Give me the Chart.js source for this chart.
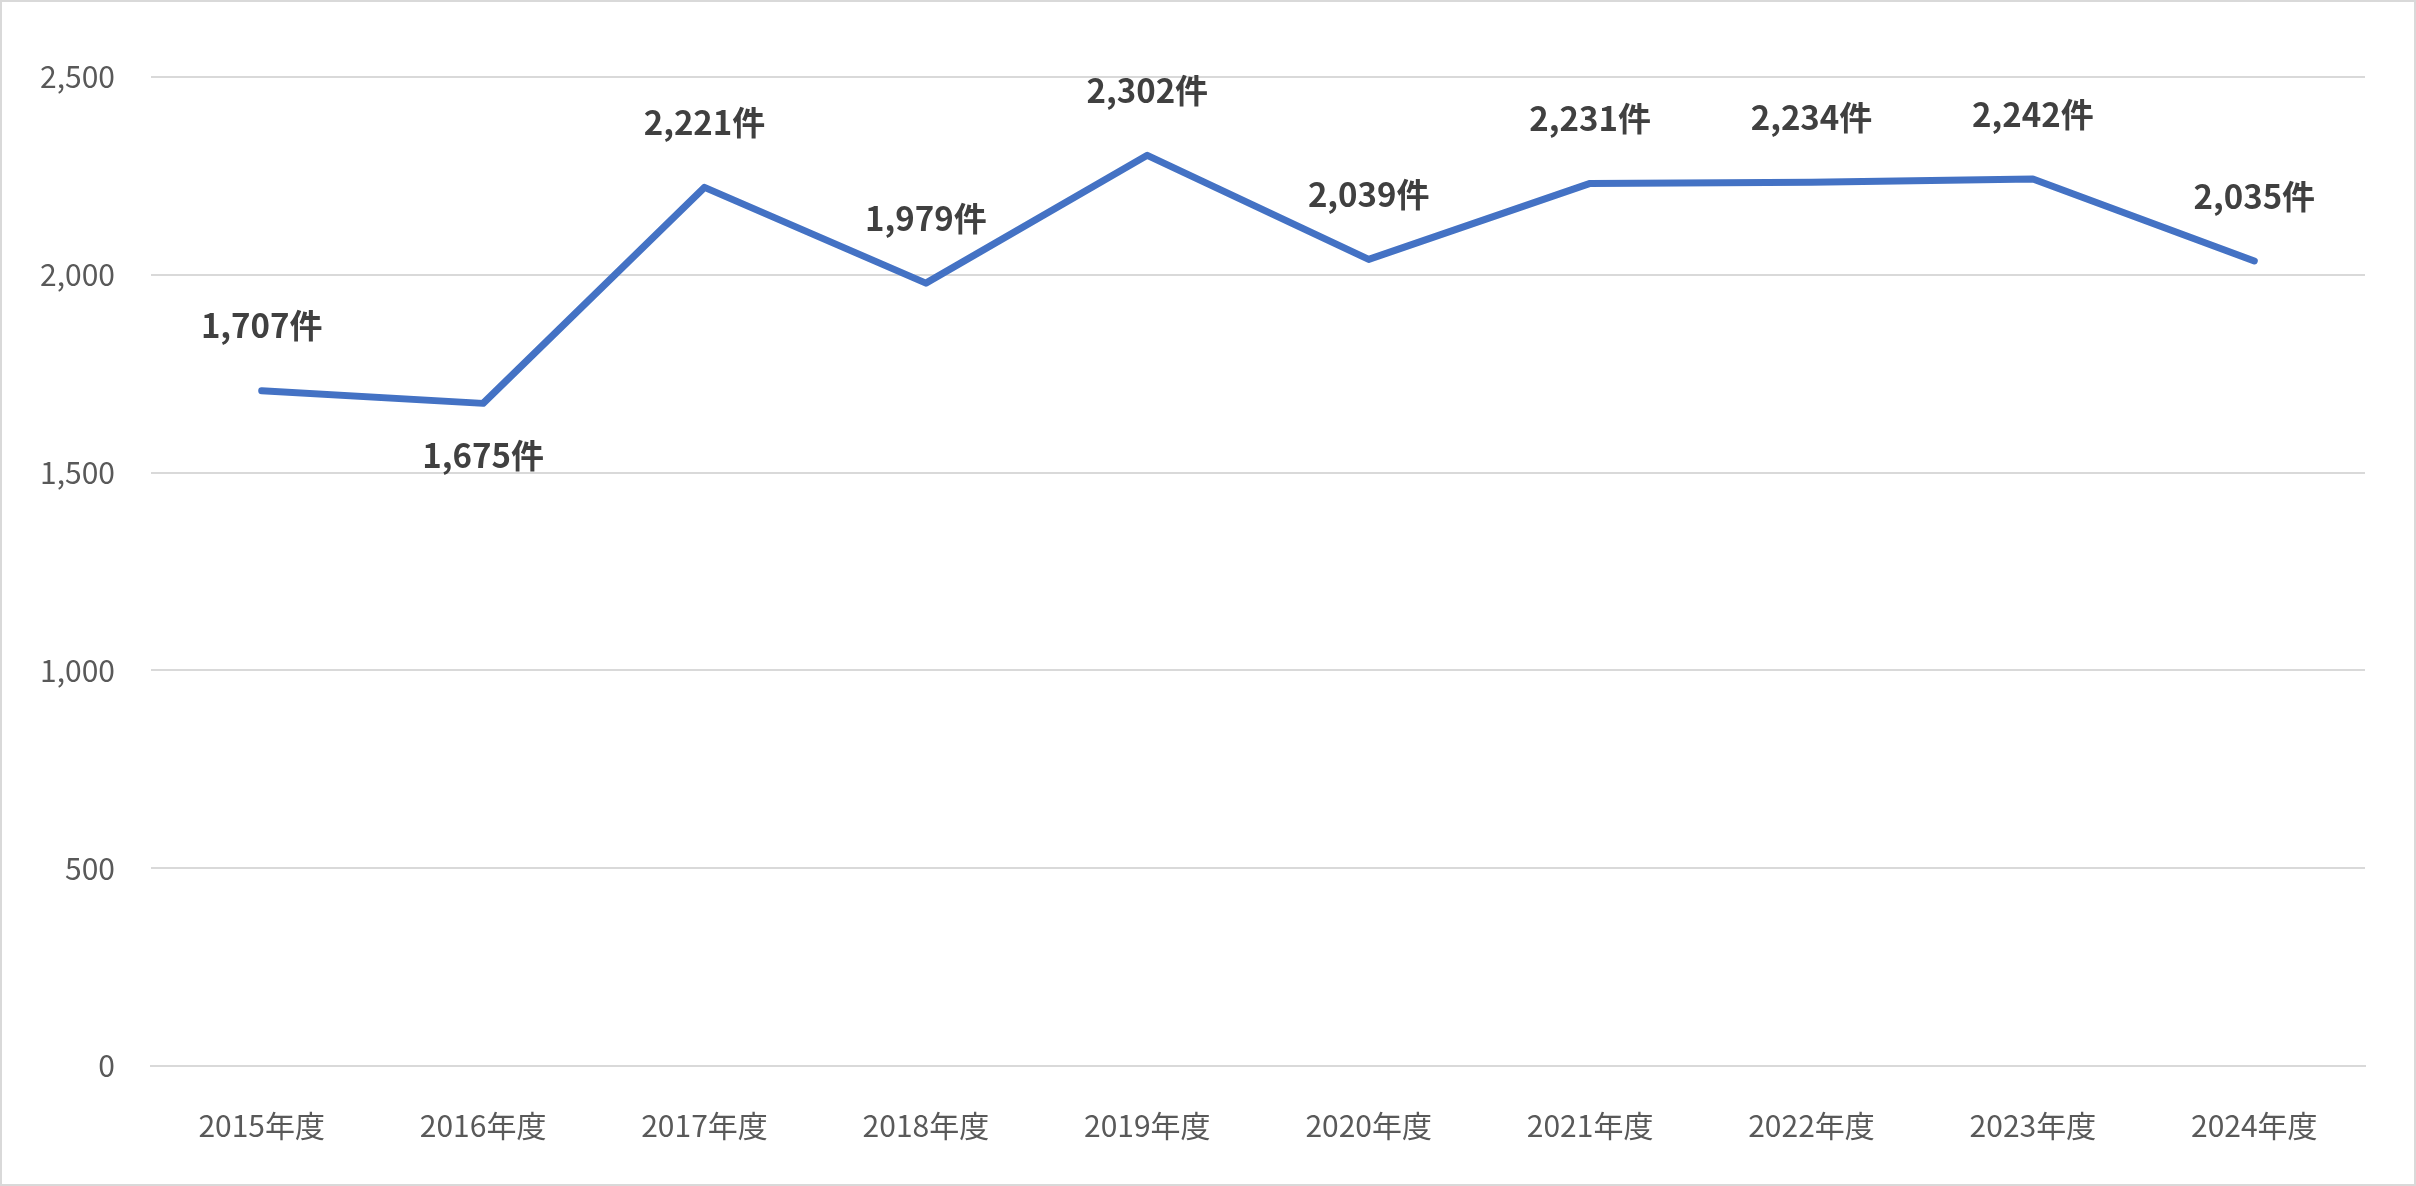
<!DOCTYPE html>
<html><head><meta charset="utf-8">
<script src="https://cdn.jsdelivr.net/npm/chart.js@4"></script>
<style>html,body{margin:0;padding:0;background:#fff}canvas{display:block}</style>
</head><body>
<canvas id="c" width="2416" height="1186"></canvas>
<script>
const categories = ["2015年度","2016年度","2017年度","2018年度","2019年度","2020年度","2021年度","2022年度","2023年度","2024年度"];
const values = [1707,1675,2221,1979,2302,2039,2231,2234,2242,2035];
const labelBelow = [false,true,false,false,false,false,false,false,false,false];
const yTicks = [0,500,1000,1500,2000,2500];
const FONT = '"Noto Sans CJK JP","Noto Sans",sans-serif';

const labelPlugin = {
  id:'lbl',
  afterDatasetsDraw(chart){
    const ctx = chart.ctx, meta = chart.getDatasetMeta(0);
    ctx.save();
    ctx.font = 'bold 33px '+FONT; ctx.fillStyle='#404040';
    ctx.textAlign='center'; ctx.textBaseline='middle';
    meta.data.forEach((p,i)=>{
      const t = values[i].toLocaleString('en-US')+'件';
      ctx.fillText(t, p.x, labelBelow[i] ? p.y+52 : p.y-65);
    });
    ctx.restore();
  },
  afterDraw(chart){
    const ctx=chart.ctx; ctx.save(); ctx.strokeStyle='#d9d9d9'; ctx.lineWidth=2;
    ctx.strokeRect(1,1,chart.width-2,chart.height-2); ctx.restore();
  }
};

new Chart(document.getElementById('c'),{
  type:'line',
  data:{labels:categories,datasets:[{data:values,borderColor:'#4472C4',borderWidth:7,pointRadius:0,tension:0,borderCapStyle:'round',borderJoinStyle:'round'}]},
  options:{
    responsive:false,animation:false,
    layout:{padding:{top:77,right:51,left:0,bottom:0}},
    plugins:{legend:{display:false},tooltip:{enabled:false}},
    scales:{
      x:{offset:true,grid:{display:false,drawTicks:false},border:{color:'#d9d9d9',width:2},
        ticks:{color:'#595959',font:{size:30,family:FONT},padding:42},
        afterFit(s){s.height=120;}},
      y:{min:0,max:2500,afterBuildTicks(s){s.ticks=yTicks.map(v=>({value:v}));},
        grid:{color:'#d9d9d9',lineWidth:2,drawTicks:false},border:{display:false},
        ticks:{color:'#595959',font:{size:30,family:FONT},padding:36},
        afterFit(s){s.width=151;}}
    }
  },
  plugins:[labelPlugin]
});
</script>
</body></html>
